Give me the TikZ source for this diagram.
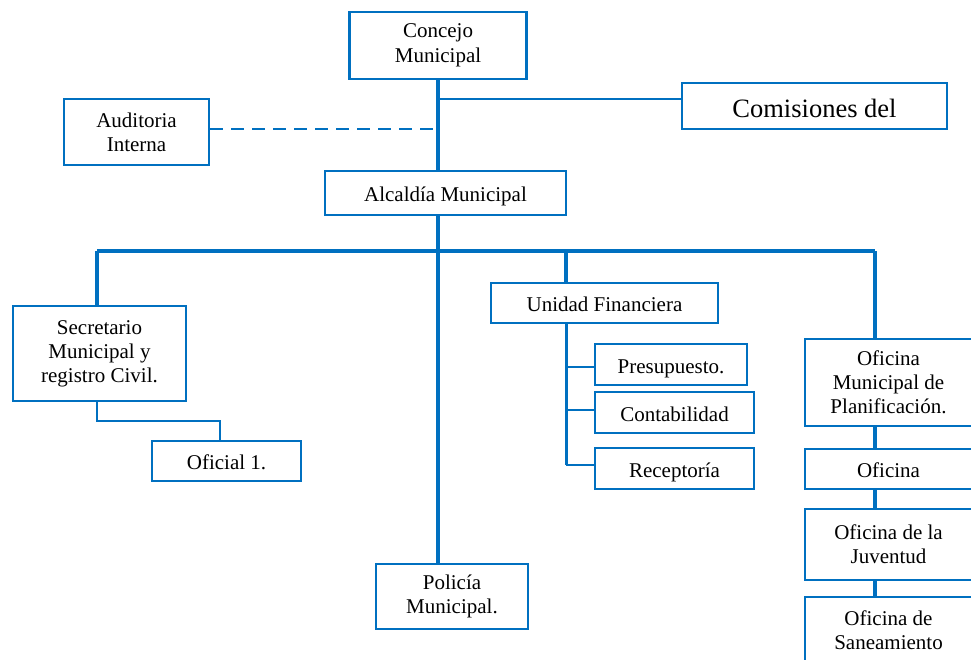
\documentclass[tikz,border=0pt]{standalone}
\usepackage{fontspec}
\setmainfont{Liberation Serif}
\definecolor{orgblue}{RGB}{0,112,192}
\begin{document}
\begin{tikzpicture}[x=1pt,y=-1pt]
\tikzset{
    unit/.style={draw=orgblue, line width=2.2pt, fill=white, align=center, inner sep=0pt, font=\fontsize{21}{24}\selectfont},
    oneline/.style={text height=17pt, text depth=0pt},
    trunk/.style={draw=orgblue, line width=4pt},
    link/.style={draw=orgblue, line width=2pt},
}
\useasboundingbox (0,0) rectangle (971,660);
\coordinate (bus)  at (438,251); % main horizontal line
\coordinate (colS) at (97,251);  % secretary column
\coordinate (colU) at (566,251); % finance column
\coordinate (colP) at (875,251); % planning column

% Top of the chart.
\node[unit, minimum width=177pt, minimum height=67pt, font=\fontsize{21}{25}\selectfont] (conc) at (438,45.5) {Concejo\\Municipal};
\node[unit, minimum width=265pt, minimum height=46pt, font=\fontsize{26.5}{30}\selectfont, text height=24pt, text depth=0pt] (comi) at (814.5,106) {Comisiones del};
\node[unit, minimum width=145pt, minimum height=66pt] (audi) at (136.5,132) {Auditoria\\Interna};
\node[unit, oneline, minimum width=241pt, minimum height=44pt] (alca) at (445.5,193) {Alcaldía Municipal};

% Left and middle branches.
\node[unit, minimum width=173pt, minimum height=95pt] (secr) at (99.5,353.5) {Secretario\\Municipal y\\registro Civil.};
\node[unit, oneline, minimum width=149pt, minimum height=40pt] (ofi1) at (226.5,461) {Oficial 1.};
\node[unit, minimum width=152pt, minimum height=65pt] (poli) at (452,596.5) {Policía\\Municipal.};

% Finance unit and its offices.
\node[unit, oneline, minimum width=227pt, minimum height=40pt] (unid) at (604.5,303) {Unidad Financiera};
\node[unit, oneline, minimum width=152pt, minimum height=41pt] (pres) at (671,364.5) {Presupuesto.};
\node[unit, oneline, minimum width=159pt, minimum height=41pt] (cont) at (674.5,412.5) {Contabilidad};
\node[unit, oneline, minimum width=159pt, minimum height=41pt] (rece) at (674.5,468.5) {Receptoría};

% Planning office column, cut at the right edge.
\node[unit, minimum width=167pt, minimum height=87pt] (plan) at (888.5,382.5) {Oficina\\Municipal de\\Planificación.};
\node[unit, oneline, minimum width=167pt, minimum height=40pt] (ofic) at (888.5,469) {Oficina};
\node[unit, minimum width=167pt, minimum height=71pt] (juve) at (888.5,544.5) {Oficina de la\\Juventud};
\node[unit, minimum width=167pt, minimum height=67pt] (sane) at (888.5,630.5) {Oficina de\\Saneamiento};

% Main spine.
\draw[trunk] (conc.south) -- (conc.south |- alca.north);
\draw[trunk] (bus |- alca.south) -- (bus |- poli.north);
\draw[link] (conc.south |- 0,99) -- ([yshift=7pt]comi.west);
\draw[link, dash pattern=on 13pt off 8pt] ([yshift=3pt]audi.east) -- (conc.south |- 0,129);

% Horizontal bus and its drops.
\draw[trunk] (colS) -- (colP);
\draw[trunk] (colS) -- (colS |- secr.north);
\draw[trunk] (colU) -- (colU |- unid.north);
\draw[trunk] (colP) -- (colP |- plan.north);
\draw[link] (colS |- secr.south) -- (97,421) -| ([xshift=-6.5pt]ofi1.north);

% Finance sub-spine.
\draw[draw=orgblue, line width=3pt] (colU |- unid.south) -- (colU |- 0,465);
\draw[link] (colU |- 0,367) -- ([yshift=-2.5pt]pres.west);
\draw[link] (colU |- 0,410) -- ([yshift=2.5pt]cont.west);
\draw[link] (colU |- 0,465) -- ([yshift=3.5pt]rece.west);

% Planning column links.
\draw[trunk] (colP |- plan.south) -- (colP |- ofic.north);
\draw[trunk] (colP |- ofic.south) -- (colP |- juve.north);
\draw[trunk] (colP |- juve.south) -- (colP |- sane.north);
\end{tikzpicture}
\end{document}
